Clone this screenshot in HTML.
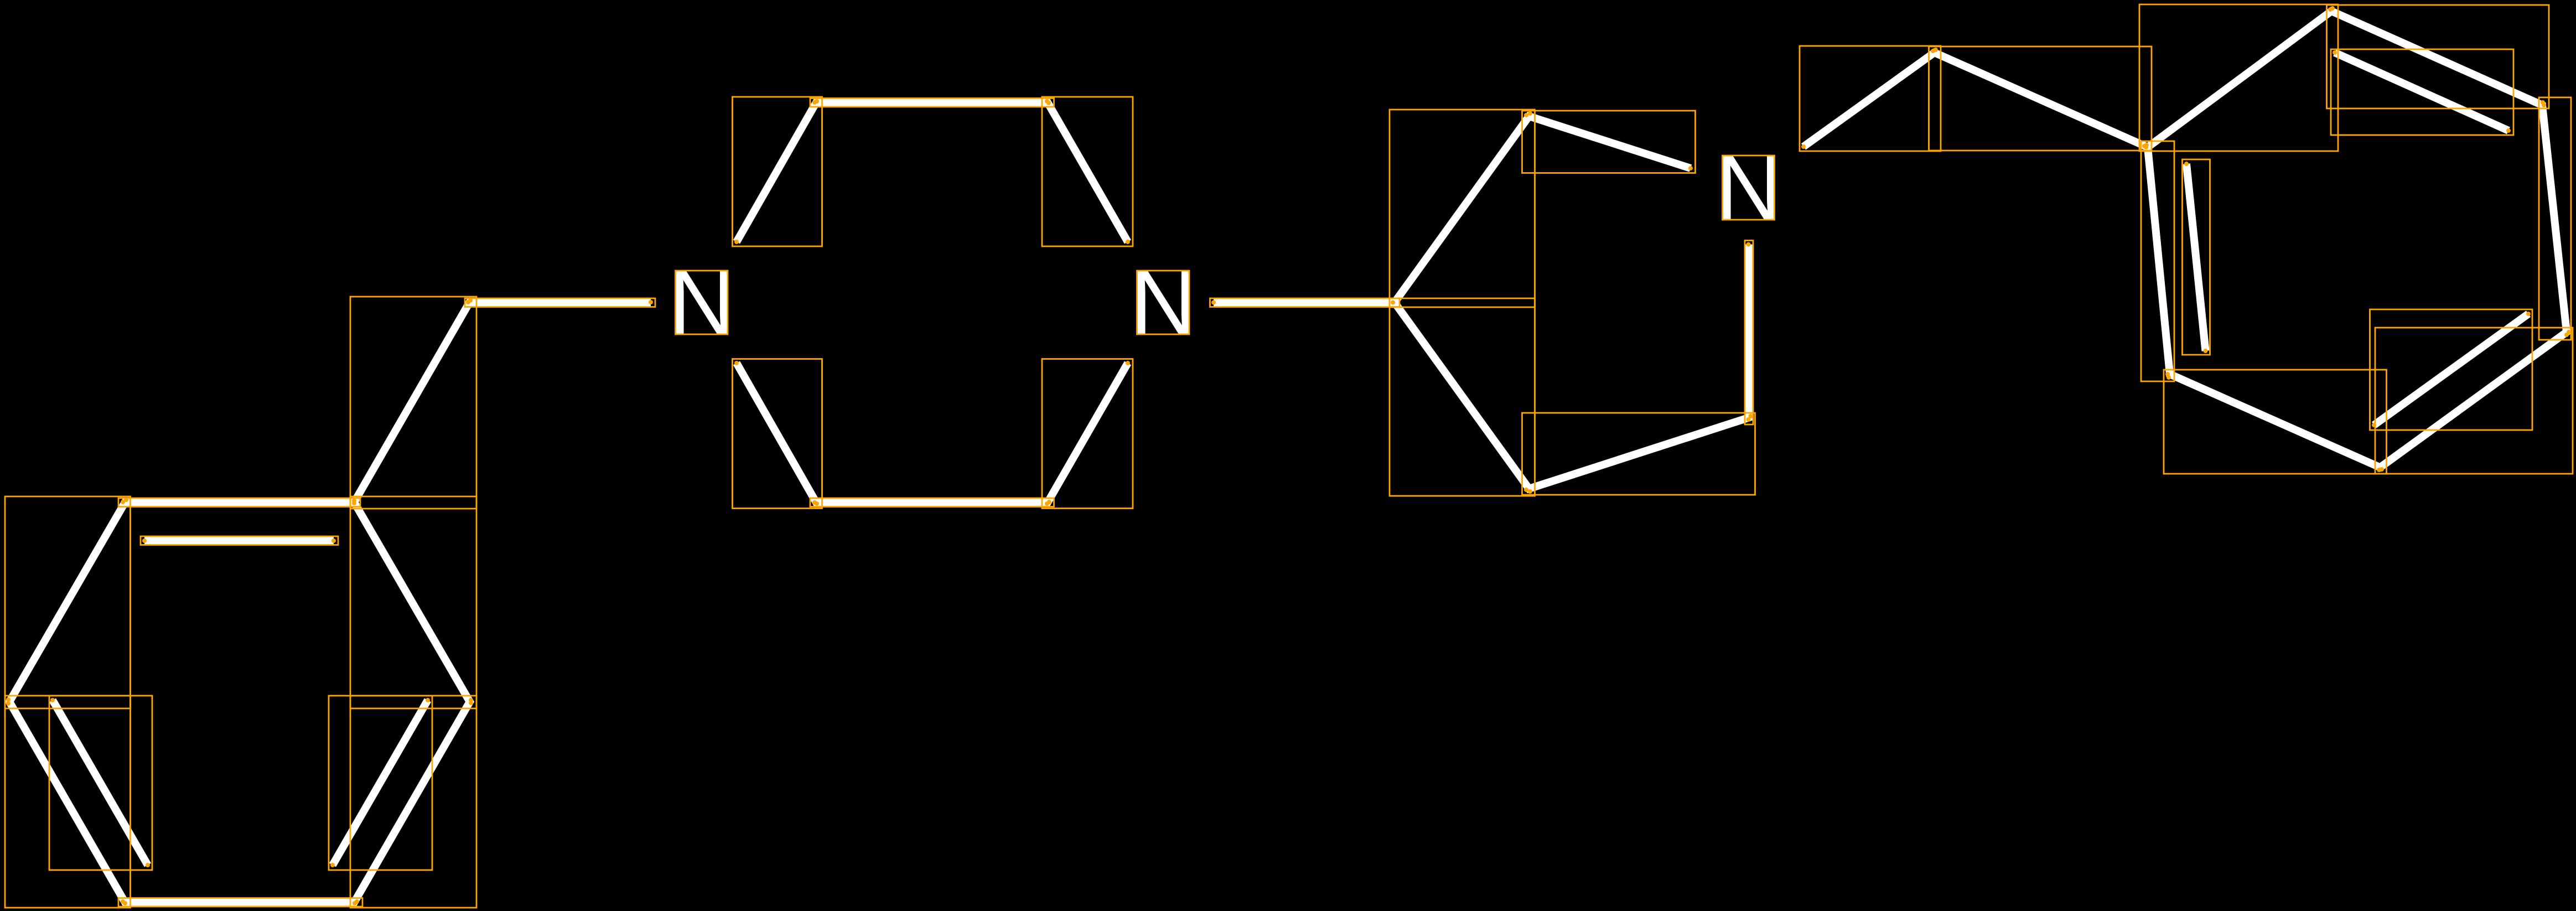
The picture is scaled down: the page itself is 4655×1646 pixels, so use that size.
<!DOCTYPE html>
<html><head><meta charset="utf-8"><style>
html,body{margin:0;padding:0;background:#000}
svg{display:block}
.b *{fill:none;stroke:#fff;stroke-width:14;stroke-linecap:butt;stroke-linejoin:miter;stroke-miterlimit:10}
.r rect{fill:none;stroke:#ffa500;stroke-width:2.8}
.d circle{fill:#ffa500}
text{font-family:"Liberation Sans",sans-serif;font-size:167px;fill:#fff}
</style></head><body>
<svg width="4655" height="1646" viewBox="0 0 4655 1646" xmlns="http://www.w3.org/2000/svg">
<rect width="4655" height="1646" fill="#000"/>
<g class="b">
<path d="M226 907.5L640 907.5L849 1268L640 1630.5L226 1630.5L17 1268Z"/>
<polyline points="640,907.5 848,547 1176,546.5"/>
<line x1="261" y1="977" x2="603" y2="977"/>
<line x1="95" y1="1265" x2="267" y2="1563"/>
<line x1="773" y1="1265" x2="601" y2="1563"/>
<polyline points="1331,437 1475,185 1893,185 2038,437"/>
<polyline points="1331,656 1475,908 1893,908 2038,656"/>
<line x1="2193" y1="546.5" x2="2520" y2="546.5"/>
<polyline points="3055,304 2763,210 2520,546.5 2763,883 3162,754"/>
<line x1="3159.5" y1="441.5" x2="3159.5" y2="760"/>
<polyline points="3259,265 3495.5,95 3881,266"/>
<path d="M3881 266L4213 20L4594 190L4638 600L4301 844.5L3921 676Z"/>
<line x1="4219" y1="95" x2="4533" y2="236"/>
<line x1="3951" y1="296" x2="3985.5" y2="634"/>
<line x1="4569" y1="567" x2="4290" y2="768"/>
</g>
<text x="1208" y="604">N</text>
<text x="2042" y="604">N</text>
<text x="3100" y="397">N</text>
<g class="r">
<rect x="9" y="897" width="226.5" height="383"/>
<rect x="9" y="1257" width="226.5" height="383"/>
<rect x="214" y="900" width="437" height="15.5"/>
<rect x="214" y="1622.5" width="441" height="15.5"/>
<rect x="633" y="536" width="228" height="383"/>
<rect x="633" y="897" width="228" height="383"/>
<rect x="633" y="1257" width="228" height="383"/>
<rect x="840" y="539" width="344" height="15.5"/>
<rect x="254" y="969" width="357" height="15.5"/>
<rect x="89" y="1257" width="186" height="315"/>
<rect x="594" y="1257" width="187" height="315"/>
<rect x="1220.5" y="489" width="94.5" height="115"/>
<rect x="2054.5" y="489" width="94.5" height="115"/>
<rect x="1323.5" y="175" width="162" height="270"/>
<rect x="1883" y="175" width="164" height="270"/>
<rect x="1323.5" y="648.5" width="162" height="270"/>
<rect x="1883" y="648.5" width="164" height="270"/>
<rect x="1464" y="177.5" width="440.5" height="15.5"/>
<rect x="1464" y="900" width="440.5" height="15.5"/>
<rect x="2186.5" y="539" width="342.5" height="15.5"/>
<rect x="2511" y="198" width="262.5" height="357"/>
<rect x="2511" y="539" width="262.5" height="357"/>
<rect x="2750.5" y="200" width="313" height="112.5"/>
<rect x="3112.5" y="281" width="94" height="116"/>
<rect x="3153" y="434.5" width="15" height="332.5"/>
<rect x="2750.5" y="746" width="421" height="148"/>
<rect x="3252" y="83" width="255" height="190"/>
<rect x="3485.5" y="84" width="402.5" height="188"/>
<rect x="3866" y="8" width="359" height="265"/>
<rect x="4204.5" y="9" width="401.5" height="187"/>
<rect x="4212" y="89" width="330" height="155"/>
<rect x="4588" y="176" width="58" height="438"/>
<rect x="3869" y="255" width="60" height="434"/>
<rect x="3943.5" y="288" width="50" height="353"/>
<rect x="3910" y="668" width="402.5" height="188"/>
<rect x="4282.5" y="559" width="293.5" height="218"/>
<rect x="4292" y="592" width="357" height="264"/>
</g>
<g class="d">
<circle cx="222" cy="907" r="4"/><circle cx="228" cy="903" r="4"/>
<circle cx="15" cy="1264" r="4"/><circle cx="15" cy="1271" r="4"/>
<circle cx="222" cy="1629" r="4"/><circle cx="226" cy="1632" r="4"/>
<circle cx="640" cy="905" r="4"/><circle cx="640" cy="909" r="4"/>
<circle cx="641" cy="1632" r="4"/><circle cx="645" cy="1629" r="4"/>
<circle cx="851" cy="1265" r="4"/><circle cx="851" cy="1270" r="4"/>
<circle cx="846" cy="546" r="4"/><circle cx="850" cy="543" r="4"/>
<circle cx="1176" cy="546" r="4"/>
<circle cx="261" cy="977" r="4"/><circle cx="603" cy="977" r="4"/>
<circle cx="95" cy="1265" r="4"/><circle cx="267" cy="1563" r="4"/>
<circle cx="773" cy="1265" r="4"/><circle cx="601" cy="1563" r="4"/>
<circle cx="1331" cy="437" r="4"/><circle cx="1472" cy="185" r="4"/><circle cx="1476" cy="183" r="4"/>
<circle cx="1892" cy="183" r="4"/><circle cx="1895" cy="186" r="4"/><circle cx="2038" cy="437" r="4"/>
<circle cx="1331" cy="656" r="4"/><circle cx="1472" cy="908" r="4"/><circle cx="1476" cy="910" r="4"/>
<circle cx="1892" cy="910" r="4"/><circle cx="1896" cy="907" r="4"/><circle cx="2038" cy="656" r="4"/>
<circle cx="2193" cy="546.5" r="4"/><circle cx="2517" cy="546.5" r="4"/>
<circle cx="2758" cy="208" r="4"/><circle cx="2765" cy="205" r="4"/><circle cx="3055" cy="304" r="4"/>
<circle cx="2758" cy="885" r="4"/><circle cx="2765" cy="888" r="4"/>
<circle cx="3159.5" cy="441.5" r="4"/><circle cx="3159.5" cy="758" r="4"/><circle cx="3163.5" cy="752" r="4"/>
<circle cx="3259" cy="265" r="4"/><circle cx="3493" cy="92" r="4"/><circle cx="3498" cy="90" r="4"/>
<circle cx="3875" cy="264" r="4"/><circle cx="3879" cy="262" r="4"/><circle cx="3878" cy="266" r="4"/>
<circle cx="4211" cy="17" r="4"/><circle cx="4215" cy="15" r="4"/>
<circle cx="4595" cy="185" r="4"/><circle cx="4597" cy="190" r="4"/>
<circle cx="4642" cy="600" r="4"/><circle cx="4638" cy="605" r="4"/>
<circle cx="4299" cy="849" r="4"/><circle cx="4304" cy="848" r="4"/>
<circle cx="3917" cy="676" r="4"/><circle cx="3919" cy="682" r="4"/>
<circle cx="4219" cy="95" r="4"/><circle cx="4533" cy="236" r="4"/>
<circle cx="3951" cy="296" r="4"/><circle cx="3985.5" cy="634" r="4"/>
<circle cx="4569" cy="567" r="4"/><circle cx="4290" cy="768" r="4"/>
</g>
</svg>
</body></html>
